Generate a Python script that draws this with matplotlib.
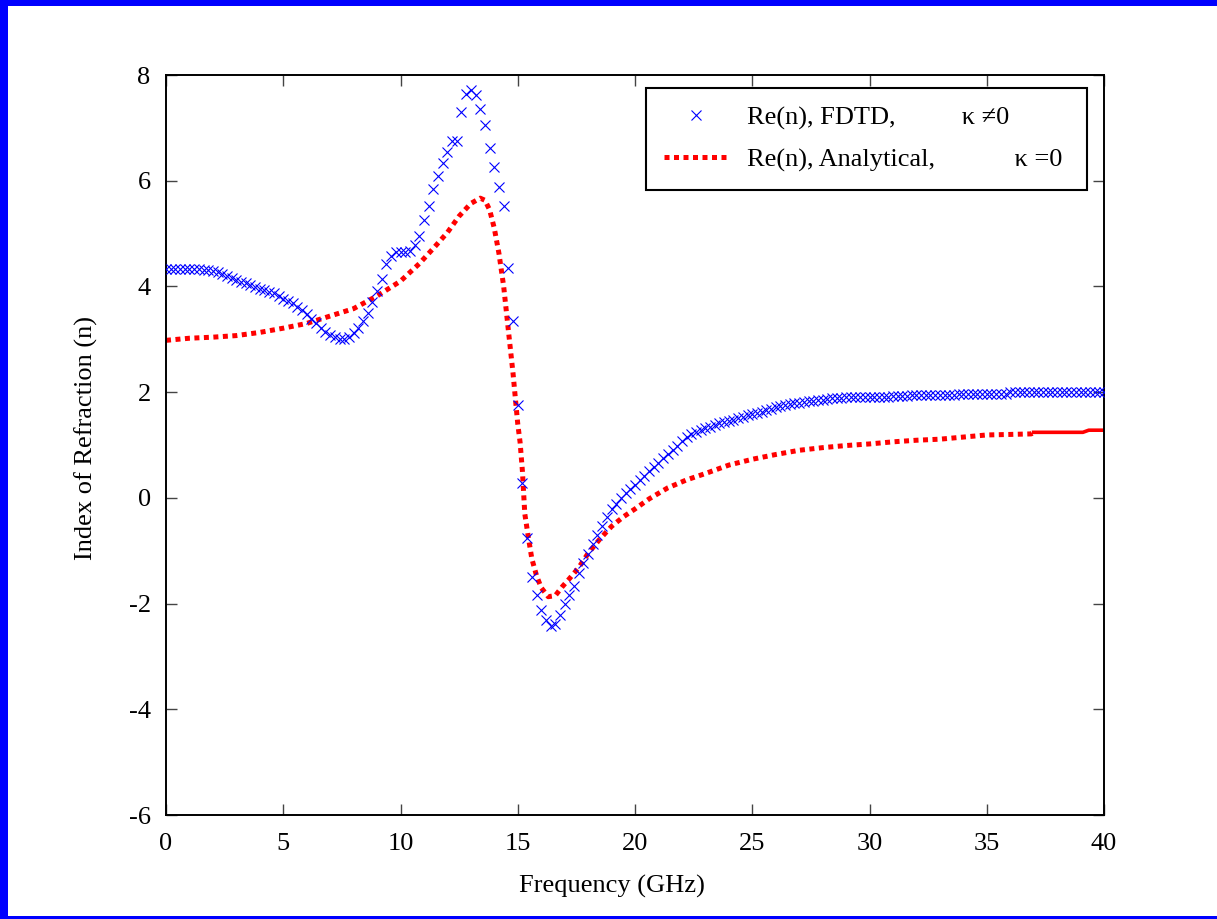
import numpy as np
import matplotlib
matplotlib.use("Agg")
import matplotlib.pyplot as plt
from matplotlib.patches import Rectangle

plt.rcParams['font.family'] = ['Liberation Serif', 'DejaVu Serif']
plt.rcParams['axes.unicode_minus'] = False

# ---- data ----
# FDTD Re(n), sampled every 0.2 GHz from 0 to 40 GHz
fdtd_step = 0.2
fdtd_n = [
    4.33, 4.33, 4.33, 4.33, 4.33, 4.33, 4.33, 4.33, 4.32, 4.31,
    4.29, 4.27, 4.24, 4.20, 4.16, 4.13, 4.09, 4.06, 4.03, 3.99,
    3.96, 3.93, 3.90, 3.87, 3.82, 3.77, 3.73, 3.68, 3.62, 3.55,
    3.48, 3.39, 3.31, 3.22, 3.14, 3.08, 3.04, 3.01, 3.01, 3.04,
    3.11, 3.22, 3.35, 3.49, 3.70, 3.91, 4.15, 4.43, 4.58, 4.65,
    4.66, 4.66, 4.67, 4.78, 4.95, 5.25, 5.52, 5.85, 6.08, 6.33,
    6.55, 6.76, 6.75, 7.30, 7.65, 7.72, 7.63, 7.36, 7.05, 6.62,
    6.26, 5.88, 5.53, 4.35, 3.35, 1.75, 0.28, -0.76, -1.50, -1.83,
    -2.12, -2.32, -2.43, -2.38, -2.22, -2.00, -1.84, -1.66, -1.43, -1.24,
    -1.06, -0.88, -0.71, -0.53, -0.36, -0.21, -0.11, 0.00, 0.09, 0.17,
    0.25, 0.34, 0.42, 0.50, 0.58, 0.66, 0.75, 0.83, 0.91, 0.99,
    1.08, 1.15, 1.20, 1.25, 1.29, 1.32, 1.35, 1.38, 1.41, 1.43,
    1.46, 1.48, 1.51, 1.53, 1.56, 1.58, 1.60, 1.63, 1.66, 1.69,
    1.72, 1.74, 1.76, 1.77, 1.79, 1.80, 1.81, 1.83, 1.84, 1.85,
    1.86, 1.87, 1.88, 1.89, 1.89, 1.90, 1.90, 1.90, 1.91, 1.91,
    1.91, 1.91, 1.91, 1.91, 1.91, 1.92, 1.92, 1.92, 1.92, 1.94,
    1.95, 1.95, 1.95, 1.95, 1.95, 1.95, 1.95, 1.95, 1.95, 1.97,
    1.97, 1.97, 1.97, 1.97, 1.97, 1.97, 1.97, 1.97, 1.97, 1.97,
    2.00, 2.00, 2.00, 2.00, 2.00, 2.00, 2.00, 2.00, 2.00, 2.00,
    2.00, 2.00, 2.00, 2.00, 2.00, 2.00, 2.00, 2.00, 2.00, 2.00,
    2.00,
]
fdtd_freq = np.arange(len(fdtd_n)) * fdtd_step

# Analytical Re(n)
ana_freq = [0, 1, 2, 3, 4, 5, 6, 7, 8, 9, 10, 10.8, 11.4, 12.0, 12.5, 13.0,
            13.4, 13.6, 13.8, 14.0, 14.2, 14.4, 14.6, 14.8, 15.0, 15.1, 15.2,
            15.3, 15.45, 15.6, 15.8, 16.0, 16.3, 16.6, 16.9, 17.2, 17.6, 18.0,
            18.5, 19.0, 19.5, 20.0, 20.6, 21.4, 22.2, 23.0, 24.0, 25.0, 26.0,
            27.0, 28.0, 29.0, 30.0, 31.0, 32.0, 33.0, 34.0, 35.0, 36.0, 36.9,
            37.0, 39.1, 39.35, 40.0]
ana_n = [2.98, 3.02, 3.04, 3.07, 3.13, 3.21, 3.30, 3.44, 3.58, 3.82, 4.10,
         4.43, 4.72, 5.02, 5.33, 5.57, 5.67, 5.63, 5.45, 5.10, 4.62, 4.00,
         3.17, 2.35, 1.40, 1.05, 0.50, -0.30, -0.74, -1.15, -1.47, -1.70,
         -1.87, -1.85, -1.68, -1.53, -1.32, -1.05, -0.78, -0.54, -0.36, -0.21,
         -0.02, 0.19, 0.34, 0.46, 0.62, 0.73, 0.82, 0.90, 0.95, 0.99, 1.02,
         1.06, 1.09, 1.11, 1.15, 1.19, 1.20, 1.21, 1.24, 1.24, 1.28, 1.28]
ana_dotted_end = 37.0  # beyond this the analytical curve is drawn solid

x_ticks = [0, 5, 10, 15, 20, 25, 30, 35, 40]
y_ticks = [-6, -4, -2, 0, 2, 4, 6, 8]
labels = ["Re(n), FDTD,          \u03ba \u22600",
          "Re(n), Analytical,            \u03ba =0 "]

# ---- figure ----
fig = plt.figure(figsize=(12.17, 9.19), dpi=100)
ax = fig.add_axes([166 / 1217, 1 - 815 / 919, 938 / 1217, 740 / 919])

ana_freq_a = np.array(ana_freq)
ana_n_a = np.array(ana_n)
m1 = ana_freq_a <= ana_dotted_end
m2 = ana_freq_a >= ana_dotted_end

ax.plot(fdtd_freq, fdtd_n, linestyle='none', marker='x', markersize=7,
        markeredgewidth=0.8, color='#0000ff', label=labels[0], zorder=3)
ax.plot(ana_freq_a[m1], ana_n_a[m1], color='#ff0000', linewidth=3.6,
        linestyle=(0, (1.0, 0.9)), dash_capstyle='butt',
        label=labels[1], zorder=2)
ax.plot(ana_freq_a[m2], ana_n_a[m2], color='#ff0000', linewidth=2.6,
        linestyle='-', zorder=2)

ax.set_xlim(0, 40)
ax.set_ylim(-6, 8)
ax.set_xticks(x_ticks)
ax.set_yticks(y_ticks)
ax.tick_params(direction='in', length=8, width=1, color='#444444',
               top=True, right=True, labelsize=19, pad=11)
ax.tick_params(axis='x', pad=13)
for s in ax.spines.values():
    s.set_linewidth(1.4)
    s.set_color('black')

ax.set_xlabel('Frequency (GHz)', fontsize=19)
ax.set_ylabel('Index of Refraction (n)', fontsize=19)
ax.xaxis.set_label_coords((612 - 166) / 938, -0.081)
ax.yaxis.set_label_coords(-0.073, 0.51)

leg = ax.legend(loc='upper right', bbox_to_anchor=(1 - 17 / 938, 1 - 13 / 740),
                borderaxespad=0, fontsize=19, frameon=True, fancybox=False,
                edgecolor='black', framealpha=1, handlelength=2.45,
                handletextpad=0.7, borderpad=0.68, labelspacing=0.68)
leg.get_frame().set_linewidth(1.5)

# blue frame around the figure
fig.patches.append(Rectangle((0, 0), 8 / 1217, 1, transform=fig.transFigure,
                             facecolor='#0000ff', edgecolor='none'))
fig.patches.append(Rectangle((0, 1 - 6 / 919), 1, 6 / 919, transform=fig.transFigure,
                             facecolor='#0000ff', edgecolor='none'))
fig.patches.append(Rectangle((0, 0), 1, 3 / 919, transform=fig.transFigure,
                             facecolor='#0000ff', edgecolor='none'))

fig.savefig('out.png', dpi=100)
